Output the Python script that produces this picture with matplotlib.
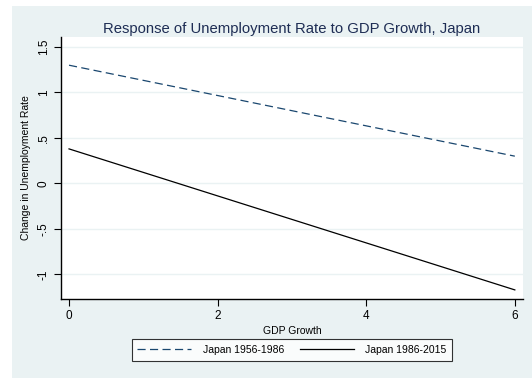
import matplotlib
matplotlib.use("Agg")
import matplotlib.pyplot as plt
from matplotlib.patches import Rectangle

plt.rcParams["font.family"] = ["Liberation Sans", "DejaVu Sans"]

# fitted lines: GDP growth -> change in unemployment rate
gdp = [0, 6]
early = [1.30, 0.30]   # Japan 1956-1986
late = [0.38, -1.17]   # Japan 1986-2015

yticks = [-1, -0.5, 0, 0.5, 1, 1.5]
ylabels = ["-1", "-.5", "0", ".5", "1", "1.5"]
xticks = [0, 2, 4, 6]

bg = "#EAF2F3"
navy = "#1A476F"

fig = plt.figure(figsize=(5.32, 3.78), dpi=100)
fig.patches.append(Rectangle((12 / 532, 0), 520 / 532, 372 / 378,
                             transform=fig.transFigure, facecolor=bg,
                             edgecolor="none", zorder=-1))

ax = fig.add_axes([61 / 532, 79 / 378, 462 / 532, 262 / 378])
ax.set_facecolor("white")

ax.plot(gdp, early, color=navy, lw=0.9, dashes=(6.5, 3.5), label="Japan 1956-1986")
ax.plot(gdp, late, color="black", lw=0.9, label="Japan 1986-2015")

ax.set_xlim(-0.108, 6.11)
ax.set_ylim(-1.27, 1.61)
ax.set_xticks(xticks)
ax.set_xticklabels([str(v) for v in xticks])
ax.set_yticks(yticks)
ax.set_yticklabels(ylabels, rotation=90, va="center")
ax.grid(axis="y", color=bg, lw=1.0)
ax.set_axisbelow(True)

for s in ["top", "right"]:
    ax.spines[s].set_visible(False)
for s in ["left", "bottom"]:
    ax.spines[s].set_linewidth(1.0)
ax.tick_params(axis="both", labelsize=8.5, length=5, width=0.8, pad=3)

ax.set_xlabel("GDP Growth", fontsize=7.5, labelpad=3)
ax.set_ylabel("Change in Unemployment Rate", fontsize=7.5, labelpad=5)
ax.set_title("Response of Unemployment Rate to GDP Growth, Japan",
             fontsize=10.7, color="#1E2D54", pad=3)

leg = fig.legend(loc="center", bbox_to_anchor=(292 / 532, 1 - 350 / 378),
                 ncol=2, fontsize=7.5, frameon=True, fancybox=False,
                 edgecolor="black", handlelength=5.2, columnspacing=1.5,
                 borderpad=0.55, handletextpad=1.1)
leg.get_frame().set_linewidth(0.8)

fig.savefig("out.png", dpi=100)
